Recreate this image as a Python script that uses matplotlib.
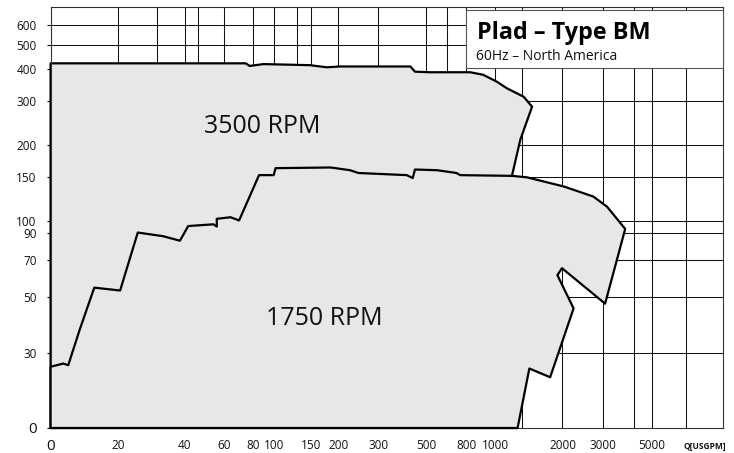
import matplotlib
matplotlib.use('Agg')
import matplotlib.pyplot as plt
from matplotlib.patches import Polygon, Rectangle
from matplotlib.ticker import NullLocator

plt.rcParams['font.family'] = ['Open Sans', 'DejaVu Sans']

# --- Envelope data: Q [USGPM], H [ft] ---
q_3500 = [10, 10, 75, 78, 90, 145, 173, 198, 410, 430, 500, 760, 870,
          1000, 1110, 1320, 1440, 1275, 1170, 1235]
h_3500 = [15.1, 422, 422, 412, 419, 415, 407, 410, 410, 391, 389, 389, 380,
          357, 336, 311, 284, 210, 151, 15.1]

q_1750 = [10, 10, 11.4, 12.0, 13.5, 15.7, 20.5, 24.6, 32, 38, 41.4, 53.7,
          55.6, 55.6, 64, 70, 86, 100, 102, 180, 220, 240, 395, 420, 430,
          540, 660, 685, 1170, 1365, 2000, 2710, 3120, 3765, 3060, 1960,
          1870, 2210, 1735, 1400, 1240]
h_1750 = [15.1, 26.4, 27.2, 26.8, 37, 54.4, 53, 90, 87, 83.5, 95.5, 97,
          95, 102, 103.5, 100.5, 152, 152, 162, 163, 159, 155, 152, 148, 160,
          159, 155, 152, 151, 149, 137, 125, 114, 93, 47, 65,
          61, 45, 24, 26, 15.1]

# --- axes ---
# chart grid is hand drawn: labels sit on the drawn grid lines
x_ticks = [10, 20, 40, 60, 81, 100, 147, 195, 295, 482, 729, 983,
           1970, 3000, 4960, 8600]
x_labels = ['0', '20', '40', '60', '80', '100', '150', '200', '300', '500',
            '800', '1000', '2000', '3000', '5000', 'Q[USGPM]']
y_ticks = [15.1, 30, 50, 70, 90, 100, 150, 200, 300, 400, 500, 600]
y_labels = ['0', '30', '50', '70', '90', '100', '150', '200', '300', '400',
            '500', '600']
x_grid = [20, 30, 40, 46, 60, 81, 100, 127, 147, 195, 295, 482, 597, 729,
          983, 1300, 1970, 3000, 4130, 4960, 7060]
y_grid = [30, 50, 70, 90, 100, 150, 200, 300, 500, 600]

fill_col = '#e6e7e9'

fig = plt.figure(figsize=(7.34, 4.53), dpi=100)
ax = fig.add_axes([0.0689, 0.0552, 0.9161, 0.9294])
ax.set_xscale('log')
ax.set_yscale('log')
ax.set_xlim(10, 10330)
ax.set_ylim(15.1, 706)

# grid (covered by the envelopes)
for q in x_grid:
    ax.axvline(q, color='#111111', lw=0.75, zorder=1)
for h in y_grid:
    ax.axhline(h, color='#111111', lw=0.75, zorder=1)

# envelopes
p35 = Polygon(list(zip(q_3500, h_3500)), closed=True, facecolor=fill_col,
              edgecolor='black', lw=1.6, joinstyle='round', zorder=2,
              clip_on=False)
p17 = Polygon(list(zip(q_1750, h_1750)), closed=True, facecolor=fill_col,
              edgecolor='black', lw=1.6, joinstyle='round', zorder=3,
              clip_on=False)
ax.add_patch(p35)
ax.add_patch(p17)

ax.text(89, 236, '3500 RPM', fontsize=18, ha='center', va='center',
        color='#111111', zorder=4)
ax.text(168, 41.2, '1750 RPM', fontsize=18, ha='center', va='center',
        color='#111111', zorder=4)

# title box
ax.add_patch(Rectangle((0.618, 0.855), 0.382, 0.139, transform=ax.transAxes,
                       facecolor='white', edgecolor='#555555', lw=0.8,
                       zorder=5, clip_on=False))
ax.text(0.634, 0.923, 'Plad – Type BM', transform=ax.transAxes,
        fontsize=16.8, fontweight='bold', va='baseline', ha='left',
        color='black', zorder=6)
ax.text(0.632, 0.874, '60Hz – North America', transform=ax.transAxes,
        fontsize=10, va='baseline', ha='left', color='#111111', zorder=6)

# ticks
ax.set_xticks(x_ticks)
ax.set_xticklabels(x_labels)
ax.set_yticks(y_ticks)
ax.set_yticklabels(y_labels)
ax.xaxis.set_minor_locator(NullLocator())
ax.yaxis.set_minor_locator(NullLocator())
ax.tick_params(axis='x', length=0, pad=8, labelsize=8.5, colors='#111111')
ax.tick_params(axis='y', length=3, width=0.8, pad=7, labelsize=8.5,
               colors='#111111')
for lab in ax.get_xticklabels() + ax.get_yticklabels():
    if lab.get_text() == '0':
        lab.set_fontsize(11)
    if lab.get_text() == 'Q[USGPM]':
        lab.set_fontsize(6)
        lab.set_fontweight('bold')
        lab.set_y(-0.007)

for s in ax.spines.values():
    s.set_color('#333333')
    s.set_linewidth(0.8)

fig.savefig('out.png', dpi=100)
